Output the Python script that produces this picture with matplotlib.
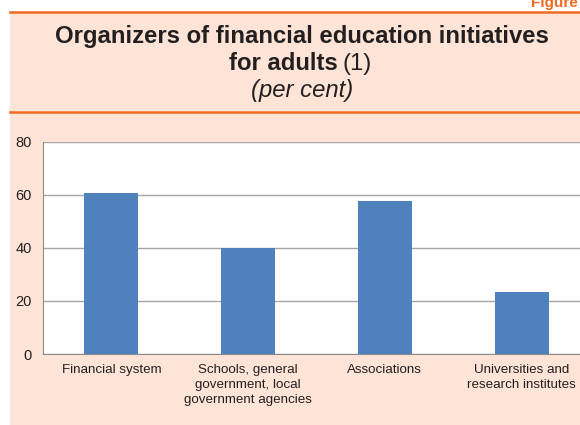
import matplotlib.pyplot as plt
from matplotlib.patches import Rectangle
from matplotlib.lines import Line2D

categories = ["Financial system",
              "Schools, general\ngovernment, local\ngovernment agencies",
              "Associations",
              "Universities and\nresearch institutes"]
values = [60.6, 40.1, 57.7, 23.3]
yticks = [0, 20, 40, 60, 80]

W, H = 580, 425
plt.rcParams['font.family'] = ['Liberation Sans', 'DejaVu Sans']
fig = plt.figure(figsize=(W / 100, H / 100), dpi=100)

peach = "#FDE4D6"
orange = "#F26A22"
dark = "#231F20"

# background panel
fig.patches.append(Rectangle((10 / W, 0), 1 - 10 / W, 1 - 12 / H,
                             transform=fig.transFigure, color=peach, zorder=-10))
for yp in (12, 112):
    fig.lines.append(Line2D([10 / W, 1], [1 - yp / H] * 2, transform=fig.transFigure,
                            color=orange, lw=1.8, zorder=-5))

fig.text(578 / W, 1 - 7 / H, "Figure", color=orange, fontsize=11, fontweight="bold",
         ha="right", va="baseline")

cx = 302 / W
fs = 17.2
fig.text(cx, 1 - 37 / H, "Organizers of financial education initiatives",
         fontsize=fs, fontweight="bold", ha="center", va="center", color=dark)
fig.text(338 / W, 1 - 64 / H, "for adults", fontsize=fs, fontweight="bold",
         ha="right", va="center", color=dark)
fig.text(342 / W, 1 - 64 / H, "(1)", fontsize=fs, ha="left", va="center", color=dark)
fig.text(cx, 1 - 91 / H, "(per cent)", fontsize=fs, style="italic",
         ha="center", va="center", color=dark)

# axes: left 43, right ~590 (past the edge), top 142, bottom 354
ax = fig.add_axes([43 / W, 1 - 354 / H, (590 - 43) / W, (354 - 142) / H], zorder=2)
ax.set_facecolor("white")
x = range(len(categories))
ax.bar(x, values, width=0.395, color="#4F81BD", zorder=3)
ax.set_xlim(-0.5, 3.5)
ax.set_ylim(0, 80)
ax.set_yticks(yticks)
ax.set_xticks(list(x))
ax.set_xticklabels(categories, fontsize=9.6, color=dark, linespacing=1.35)
ax.tick_params(axis="y", length=0, pad=8, labelsize=10.5, labelcolor=dark)
ax.tick_params(axis="x", length=0, pad=7)
ax.grid(axis="y", color="#A6A6A6", lw=1, zorder=0)
for s in ("top", "right"):
    ax.spines[s].set_visible(False)
for s in ("left", "bottom"):
    ax.spines[s].set_color("#8C8C8C")

fig.savefig("out.png", dpi=100)
